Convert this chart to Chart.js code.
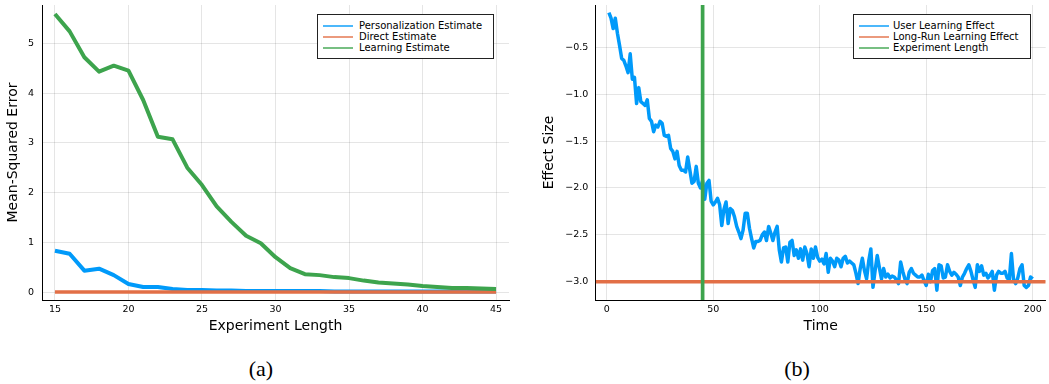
<!DOCTYPE html>
<html>
<head>
<meta charset="utf-8">
<script src="https://cdn.jsdelivr.net/npm/chart.js@4.4.0/dist/chart.umd.min.js"></script>
<style>
body { margin:0; background:#fff; width:1049px; height:384px; position:relative; overflow:hidden; font-family:"DejaVu Sans", sans-serif; }
canvas { position:absolute; top:0; }
.legend { position:absolute; border:1px solid #222; background:#fff; box-sizing:border-box; padding-top:5px; font-size:10px; color:#000; }
.legend div { position:relative; height:11px; line-height:11px; white-space:nowrap; }
.legend .ln { position:absolute; top:5px; width:30px; height:2px; opacity:0.7; }
.cap { position:absolute; top:356px; width:100px; text-align:center; font-family:"Liberation Serif", serif; font-size:22px; line-height:26px; }
</style>
</head>
<body>
<canvas id="chartA" width="520" height="340" style="left:0"></canvas>
<canvas id="chartB" width="519" height="340" style="left:530px"></canvas>
<div class="cap" style="left:211px">(a)</div>
<div class="cap" style="left:747px">(b)</div>
<script>
/* panel (a) data */
const lengths = [15,16,17,18,19,20,21,22,23,24,25,26,27,28,29,30,31,32,33,34,35,36,37,38,39,40,41,42,43,44,45];
const personalization = [0.83,0.77,0.43,0.47,0.34,0.16,0.10,0.10,0.06,0.04,0.04,0.03,0.03,0.02,0.02,0.02,0.02,0.02,0.02,0.01,0.01,0.01,0.01,0.01,0.01,0.01,0.01,0.01,0.01,0.01,0.01];
const direct = [0,0,0,0,0,0,0,0,0,0,0,0,0,0,0,0,0,0,0,0,0,0,0,0,0,0,0,0,0,0,0];
const learning = [5.59,5.24,4.72,4.43,4.55,4.45,3.86,3.12,3.07,2.50,2.15,1.72,1.41,1.13,0.98,0.70,0.48,0.36,0.34,0.30,0.28,0.23,0.19,0.17,0.15,0.12,0.10,0.08,0.08,0.07,0.06];
const xTicksA = [15,20,25,30,35,40,45];
const yTicksA = [0,1,2,3,4,5];

/* panel (b) data */
const userEffect = [
  -0.13,-0.19,-0.30,-0.19,-0.35,-0.48,-0.62,-0.64,-0.70,-0.77,
  -0.57,-0.84,-0.82,-1.10,-0.93,-1.08,-1.10,-1.12,-1.06,-1.26,
  -1.29,-1.40,-1.33,-1.35,-1.29,-1.31,-1.44,-1.45,-1.44,-1.58,
  -1.61,-1.69,-1.61,-1.76,-1.81,-1.81,-1.83,-1.67,-1.81,-1.95,
  -1.93,-1.77,-1.95,-2.00,-1.92,-2.12,-1.95,-1.92,-2.14,-2.18,
  -2.15,-2.11,-2.18,-2.40,-2.23,-2.15,-2.38,-2.22,-2.24,-2.31,
  -2.41,-2.47,-2.54,-2.45,-2.27,-2.27,-2.43,-2.54,-2.64,-2.57,
  -2.57,-2.56,-2.50,-2.47,-2.56,-2.41,-2.48,-2.56,-2.47,-2.41,
  -2.66,-2.79,-2.64,-2.63,-2.79,-2.58,-2.56,-2.72,-2.66,-2.75,
  -2.65,-2.77,-2.63,-2.70,-2.84,-2.65,-2.75,-2.63,-2.74,-2.78,
  -2.76,-2.81,-2.70,-2.90,-2.75,-2.78,-2.84,-2.75,-2.77,-2.84,
  -2.75,-2.73,-2.80,-2.78,-2.80,-2.82,-2.91,-3.02,-2.86,-2.75,
  -2.88,-2.97,-2.78,-2.65,-3.06,-2.88,-2.72,-2.85,-2.97,-2.86,
  -2.95,-2.92,-2.96,-2.94,-2.95,-2.98,-3.02,-2.79,-2.89,-2.97,
  -3.02,-2.90,-2.86,-2.91,-2.93,-2.95,-2.95,-2.93,-2.99,-3.04,
  -2.92,-3.00,-2.88,-2.86,-3.09,-2.82,-2.83,-2.96,-2.95,-2.82,
  -2.89,-2.93,-2.90,-2.92,-2.95,-3.04,-2.95,-2.91,-2.86,-2.82,
  -2.89,-2.98,-3.06,-2.82,-2.89,-2.83,-2.93,-2.91,-2.96,-2.93,
  -2.89,-3.09,-2.93,-2.89,-2.91,-2.91,-2.89,-2.96,-2.98,-2.70,
  -2.98,-3.02,-2.96,-2.86,-2.82,-3.04,-3.06,-3.04,-2.95,-2.97
];
const time = Array.from({length: userEffect.length}, (_, i) => i + 1);
const longRunEffect = -3.0;
const experimentLength = 45;
const xTicksB = [0,50,100,150,200];
const yTicksB = [-3.0,-2.5,-2.0,-1.5,-1.0,-0.5];

const BLUE = '#009AFA', ORANGE = '#E26F46', GREEN = '#3DA44D';

Chart.defaults.font.family = '"DejaVu Sans", sans-serif';
Chart.defaults.color = '#000';

function pairs(xs, ys) { return xs.map((x, i) => ({x: x, y: ys[i]})); }

function axis(min, max, ticks, fmt, titleText, titlePad, tickPad, size, isY) {
  return {
    type: 'linear', min: min, max: max,
    afterBuildTicks: s => { s.ticks = ticks.map(v => ({value: v})); },
    afterFit: s => {
      if (isY) s.width = size; else s.height = size;
      // no extra room for edge labels, the plot box is fixed by layout padding
      s.paddingTop = s.paddingBottom = s.paddingLeft = s.paddingRight = 0;
    },
    grid: { color: 'rgba(0,0,0,0.1)', lineWidth: 1, drawTicks: false },
    border: { display: true, color: '#000', width: 1 },
    ticks: { font: { size: 9.5 }, padding: tickPad, maxRotation: 0, callback: fmt, color: '#000' },
    title: { display: true, text: titleText, font: { size: 14 }, padding: titlePad, color: '#000' }
  };
}

function baseOptions(scales, padRight) {
  return {
    responsive: false, animation: false, devicePixelRatio: 1,
    layout: { padding: { left: 0, right: padRight, top: 5, bottom: 0 } },
    elements: { point: { radius: 0 }, line: { tension: 0, borderJoinStyle: 'round' } },
    plugins: { legend: { display: false }, tooltip: { enabled: false } },
    scales: scales
  };
}

const xMinA = 14.12, xMaxA = 45.88, yMinA = -0.16, yMaxA = 5.77;
const chartA = new Chart(document.getElementById('chartA'), {
  type: 'line',
  data: {
    datasets: [
      { label: 'Personalization Estimate', data: pairs(lengths, personalization), borderColor: BLUE, borderWidth: 4, order: 3 },
      { label: 'Direct Estimate', data: pairs(lengths, direct), borderColor: ORANGE, borderWidth: 3.5, order: 2 },
      { label: 'Learning Estimate', data: pairs(lengths, learning), borderColor: GREEN, borderWidth: 4, order: 1 }
    ]
  },
  options: baseOptions({
    x: axis(xMinA, xMaxA, xTicksA, v => String(v), 'Experiment Length', {top: 0, bottom: 5}, 4, 40, false),
    y: axis(yMinA, yMaxA, yTicksA, v => String(v), 'Mean-Squared Error', {top: 5, bottom: 0}, 8, 42, true)
  }, 11)
});

const xMinB = -5.2, xMaxB = 206.1, yMinB = -3.195, yMaxB = -0.049;
const minus = v => v.toFixed(1).replace('-', '\u2212');
const chartB = new Chart(document.getElementById('chartB'), {
  type: 'line',
  data: {
    datasets: [
      { label: 'User Learning Effect', data: pairs(time, userEffect), borderColor: BLUE, borderWidth: 3.5, order: 3 },
      { label: 'Long-Run Learning Effect', data: [{x: xMinB, y: longRunEffect}, {x: xMaxB, y: longRunEffect}], borderColor: ORANGE, borderWidth: 3.5, order: 2 },
      { label: 'Experiment Length', data: [{x: experimentLength, y: yMinB}, {x: experimentLength, y: yMaxB}], borderColor: GREEN, borderWidth: 3.7, order: 1 }
    ]
  },
  options: baseOptions({
    x: axis(xMinB, xMaxB, xTicksB, v => String(v), 'Time', {top: 0, bottom: 5}, 4, 40, false),
    y: axis(yMinB, yMaxB, yTicksB, minus, 'Effect Size', {top: 11, bottom: 0}, 7.4, 65.7, true)
  }, 3.3)
});

function legend(chart, left, top, width, textX) {
  const box = document.createElement('div');
  box.className = 'legend';
  box.style.cssText = 'left:' + left + 'px;top:' + top + 'px;width:' + width + 'px;height:45px';
  chart.data.datasets.forEach(ds => {
    const row = document.createElement('div');
    const ln = document.createElement('span');
    ln.className = 'ln';
    ln.style.left = '5px';
    ln.style.background = ds.borderColor;
    const tx = document.createElement('span');
    tx.style.position = 'absolute';
    tx.style.left = textX + 'px';
    tx.textContent = ds.label;
    row.appendChild(ln);
    row.appendChild(tx);
    box.appendChild(row);
  });
  document.body.appendChild(box);
}
legend(chartA, 317, 14, 177, 41);
legend(chartB, 853, 14, 178, 39);
</script>
</body>
</html>
